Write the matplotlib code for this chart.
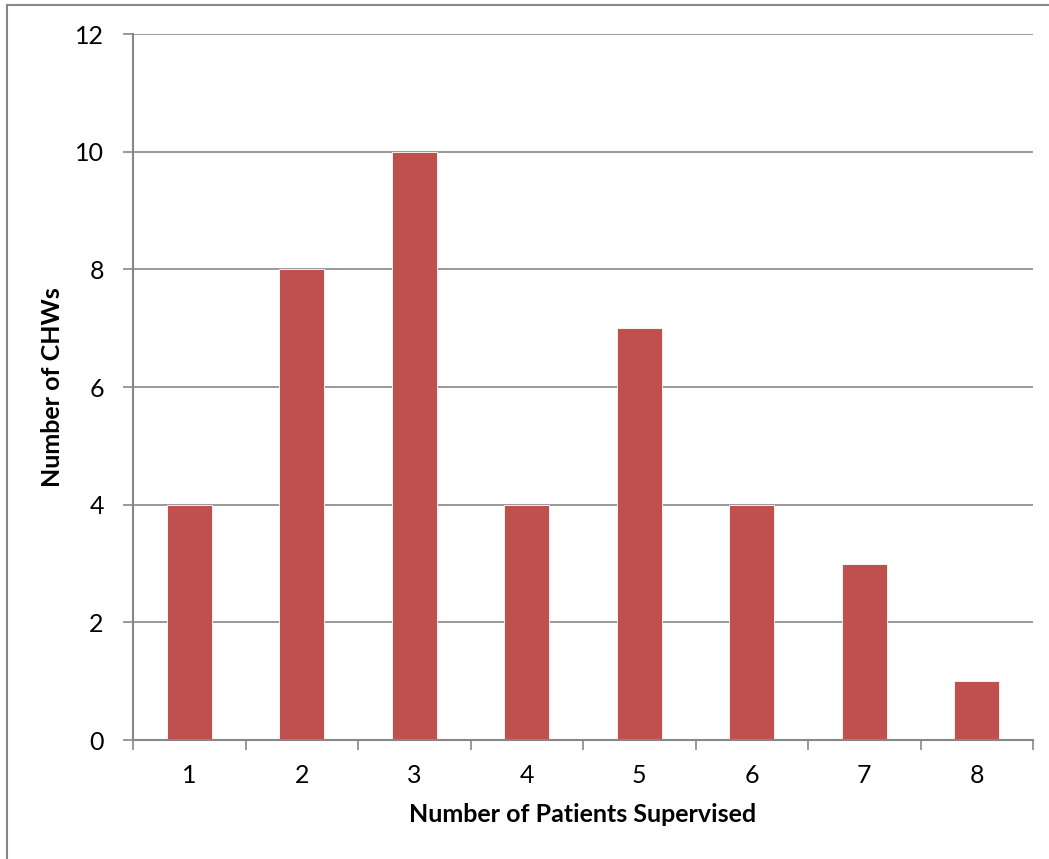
import matplotlib.pyplot as plt
from matplotlib.lines import Line2D

# Distribution of CHWs by number of patients supervised
patients = [1, 2, 3, 4, 5, 6, 7, 8]
chw_counts = [4, 8, 10, 4, 7, 4, 3, 1]
y_ticks = [0, 2, 4, 6, 8, 10, 12]

plt.rcParams['font.family'] = ['Lato', 'DejaVu Sans']

grey = '#878787'
bar_color = '#C0504D'

fig = plt.figure(figsize=(10.49, 8.59), dpi=100)
ax = fig.add_axes([0.1268, 0.1385, 0.858, 0.8219])

x = list(range(len(patients)))
ax.bar(x, chw_counts, width=0.4, color=bar_color, edgecolor='white',
       linewidth=0.6, zorder=3)

ax.set_xlim(-0.5, len(patients) - 0.5)
ax.set_ylim(0, 12)
ax.set_yticks(y_ticks)
ax.set_yticklabels([str(v) for v in y_ticks], fontsize=18)
ax.yaxis.grid(True, color=grey, linewidth=1.2, zorder=0)

# category labels centred, tick marks on category boundaries
ax.set_xticks(x)
ax.set_xticklabels([str(p) for p in patients], fontsize=18)
ax.tick_params(axis='x', length=0, pad=17)
ax.set_xticks([i - 0.5 for i in range(len(patients) + 1)], minor=True)
ax.tick_params(axis='x', which='minor', length=7, width=1.2, color=grey, direction='out')
ax.tick_params(axis='y', length=7, width=1.2, color=grey, direction='out', pad=14)

for side in ['top', 'right']:
    ax.spines[side].set_visible(False)
for side in ['left', 'bottom']:
    ax.spines[side].set_color(grey)
    ax.spines[side].set_linewidth(1.5)
    ax.spines[side].set_zorder(4)

ax.set_xlabel('Number of Patients Supervised', fontsize=18, fontweight='bold', labelpad=12)
ax.set_ylabel('Number of CHWs', fontsize=18, fontweight='bold', labelpad=8)

# chart frame
fig.add_artist(Line2D([7 / 1049, 7 / 1049], [0, 1 - 5 / 859], transform=fig.transFigure,
                      color=grey, linewidth=1.5))
fig.add_artist(Line2D([7 / 1049, 1], [1 - 5 / 859, 1 - 5 / 859], transform=fig.transFigure,
                      color=grey, linewidth=1.5))

fig.savefig('out.png', dpi=100)
